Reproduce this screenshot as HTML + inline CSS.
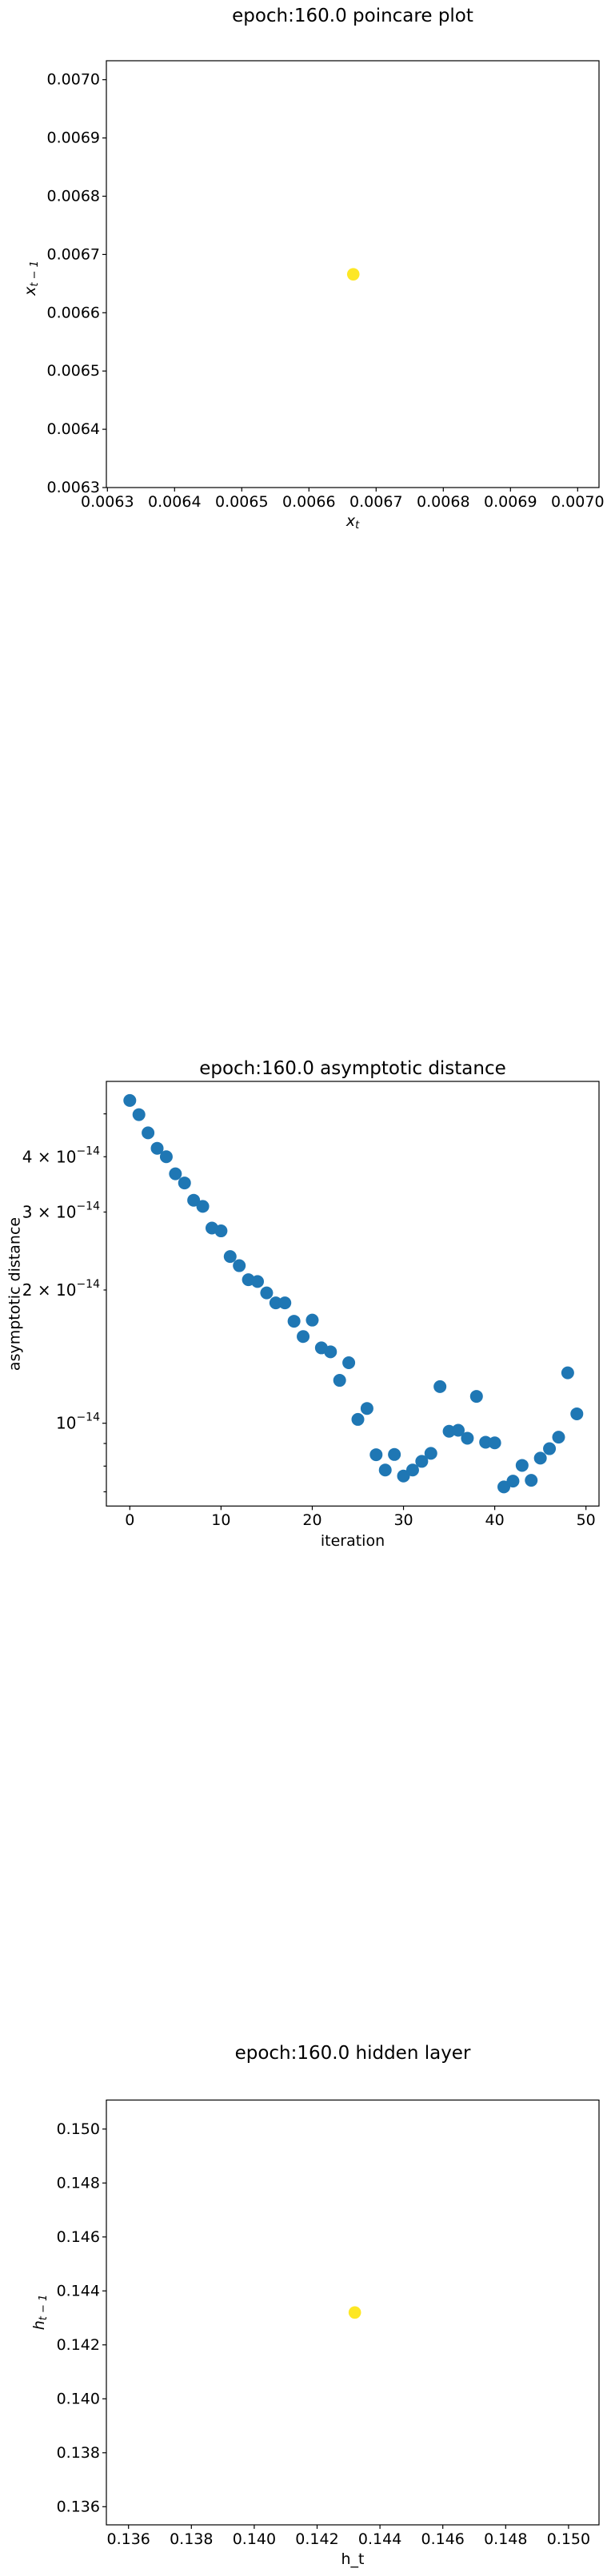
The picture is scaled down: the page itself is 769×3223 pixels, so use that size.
<!DOCTYPE html>
<html><head><meta charset="utf-8">
<style>
html,body{margin:0;padding:0;background:#fff;}
svg{display:block;font-family:"DejaVu Sans","Liberation Sans",sans-serif;}
</style></head>
<body>
<svg id="fig" width="769" height="3223" viewBox="0 0 769 3223" xmlns="http://www.w3.org/2000/svg">
<rect width="769" height="3223" fill="#fff"/>
<g id="p1"></g>
<g id="p2"></g>
<g id="p3"></g>
</svg>
<script>
// ---- Chart 1: poincare plot ----
const p1X = [0.006666];
const p1Y = [0.006666];
const p1Ticks = [0.0063,0.0064,0.0065,0.0066,0.0067,0.0068,0.0069,0.0070];
const p1TickLabels = ["0.0063","0.0064","0.0065","0.0066","0.0067","0.0068","0.0069","0.0070"];
// ---- Chart 2: asymptotic distance ----
const p2Iter = [0,1,2,3,4,5,6,7,8,9,10,11,12,13,14,15,16,17,18,19,20,21,22,23,24,25,26,27,28,29,30,31,32,33,34,35,36,37,38,39,40,41,42,43,44,45,46,47,48,49];
const p2Dist = [5.36,4.98,4.53,4.18,4.0,3.66,3.49,3.19,3.09,2.76,2.72,2.38,2.27,2.11,2.09,1.97,1.87,1.87,1.70,1.57,1.71,1.48,1.45,1.25,1.37,1.02,1.08,0.849,0.784,0.850,0.760,0.784,0.820,0.855,1.21,0.959,0.964,0.925,1.15,0.906,0.903,0.718,0.740,0.803,0.743,0.834,0.876,0.930,1.30,1.05];
const p2DistScale = 1e-14;
const p2XTicks = [0,10,20,30,40,50];
const p2YMajor = [1,2,3,4];
const p2YMajorMant = ["","2","3","4"];
const p2YMinor = [0.7,0.8,0.9,5];
// ---- Chart 3: hidden layer ----
const p3X = [0.1432];
const p3Y = [0.1432];
const p3Ticks = [0.136,0.138,0.140,0.142,0.144,0.146,0.148,0.150];
const p3TickLabels = ["0.136","0.138","0.140","0.142","0.144","0.146","0.148","0.150"];

const NS="http://www.w3.org/2000/svg";
function mk(parent,tag,attrs,text){const e=document.createElementNS(NS,tag);for(const k in attrs)e.setAttribute(k,attrs[k]);if(text!==undefined)e.textContent=text;parent.appendChild(e);return e;}
function lin(d0,d1,r0,r1){return v=>r0+(v-d0)/(d1-d0)*(r1-r0);}

function frame(g,L,T,R,B){
  const r=mk(g,'rect',{x:L,y:T,width:R-L,height:B-T,fill:'none',stroke:'#000','stroke-width':1.2});
  
  
}
function xtick(g,x,B,label,ly){
  const t=mk(g,'line',{x1:x,x2:x,y1:B,y2:B+5,stroke:'#000','stroke-width':1.2});
  
  
  const tx=mk(g,'text',{x:x,y:ly,'font-size':19,'text-anchor':'middle','dominant-baseline':'central',fill:'#000'},label);
  
  
}
function ytick(g,y,L,label,len){
  const t=mk(g,'line',{x1:L-(len||5),x2:L,y1:y,y2:y,stroke:'#000','stroke-width':1.2});
  
  
  if(label!==null&&label!==undefined){
    const tx=mk(g,'text',{x:L-8,y:y,'font-size':19,'text-anchor':'end','dominant-baseline':'central',fill:'#000'},label);
    
    
  }
}
function title(g,x,y,s){
  const t=mk(g,'text',{x:x,y:y,'font-size':23,'text-anchor':'middle','dominant-baseline':'central',fill:'#000'},s);
  
  
}

// Chart 1
(function(){
  const g=document.getElementById('p1');
  const L=133,R=749,T=76,B=610;
  const sx=lin(0.0063,0.0070,134.3,722.3), sy=lin(0.0063,0.0070,610,99.7);
  title(g,441,20,'epoch:160.0 poincare plot');
  frame(g,L,T,R,B);
  p1Ticks.forEach((v,i)=>{xtick(g,sx(v),B,p1TickLabels[i],628);ytick(g,sy(v),L,p1TickLabels[i]);});
  p1X.forEach((v,i)=>{
    const c=mk(g,'circle',{cx:sx(v),cy:sy(p1Y[i]),r:7.8,fill:'#fde725'});
    
    
  });
  const xl=mk(g,'text',{x:441,y:652,'font-size':19,'text-anchor':'middle','dominant-baseline':'central','font-style':'italic'});
  
  
  xl.innerHTML='x<tspan font-size="13" dy="5">t</tspan>';
  const yl=mk(g,'text',{x:0,y:0,'font-size':19,'text-anchor':'middle','dominant-baseline':'central','font-style':'italic',transform:'translate(38,348) rotate(-90)'});
  
  
  yl.innerHTML='x<tspan font-size="13" dy="5">t − 1</tspan>';
})();

// Chart 2
(function(){
  const g=document.getElementById('p2');
  const L=133,R=749,T=1353,B=1884.3;
  const sx=lin(0,50,162.3,732.7);
  const y1=1780.7, dec=553.8;
  const sy=v=>y1-Math.log10(v/1e-14)*dec;
  title(g,441,1337,'epoch:160.0 asymptotic distance');
  frame(g,L,T,R,B);
  p2XTicks.forEach(v=>xtick(g,sx(v),B,String(v),1902));
  p2YMinor.forEach(m=>{const y=sy(m*1e-14); if(y>T&&y<B) ytick(g,y,L,null,3.5);});
  p2YMajor.forEach((m,i)=>{
    const y=sy(m*1e-14);
    ytick(g,y,L,null,m===1?5:3.5);
    const tx=mk(g,'text',{x:L-8,y:y+7,'font-size':20,'text-anchor':'end',fill:'#000'});
    
    
    const mant=p2YMajorMant[i];
    tx.innerHTML=(mant?mant+' × ':'')+'10<tspan font-size="14" dy="-10">−14</tspan>';
  });
  p2Iter.forEach((v,i)=>{
    const c=mk(g,'circle',{cx:sx(v),cy:sy(p2Dist[i]*p2DistScale),r:8,fill:'#1f77b4'});
    
    
  });
  const xl=mk(g,'text',{x:441,y:1928,'font-size':19,'text-anchor':'middle','dominant-baseline':'central'},'iteration');
  
  
  const yl=mk(g,'text',{x:0,y:0,'font-size':19,'text-anchor':'middle','dominant-baseline':'central',transform:'translate(18.5,1619) rotate(-90)'},'asymptotic distance');
  
  
})();

// Chart 3
(function(){
  const g=document.getElementById('p3');
  const L=133,R=749,T=2627.5,B=3159;
  const sx=lin(0.136,0.150,160.7,710.9), sy=lin(0.136,0.150,3136.3,2663.8);
  title(g,441,2569,'epoch:160.0 hidden layer');
  frame(g,L,T,R,B);
  p3Ticks.forEach((v,i)=>{xtick(g,sx(v),B,p3TickLabels[i],3177);ytick(g,sy(v),L,p3TickLabels[i]);});
  p3X.forEach((v,i)=>{
    const c=mk(g,'circle',{cx:sx(v),cy:sy(p3Y[i]),r:7.8,fill:'#fde725'});
    
    
  });
  const xl=mk(g,'text',{x:441,y:3202,'font-size':19,'text-anchor':'middle','dominant-baseline':'central'},'h_t');
  
  
  const yl=mk(g,'text',{x:0,y:0,'font-size':19,'text-anchor':'middle','dominant-baseline':'central','font-style':'italic',transform:'translate(49,2893) rotate(-90)'});
  
  
  yl.innerHTML='h<tspan font-size="13" dy="5">t − 1</tspan>';
})();
</script>
</body></html>
